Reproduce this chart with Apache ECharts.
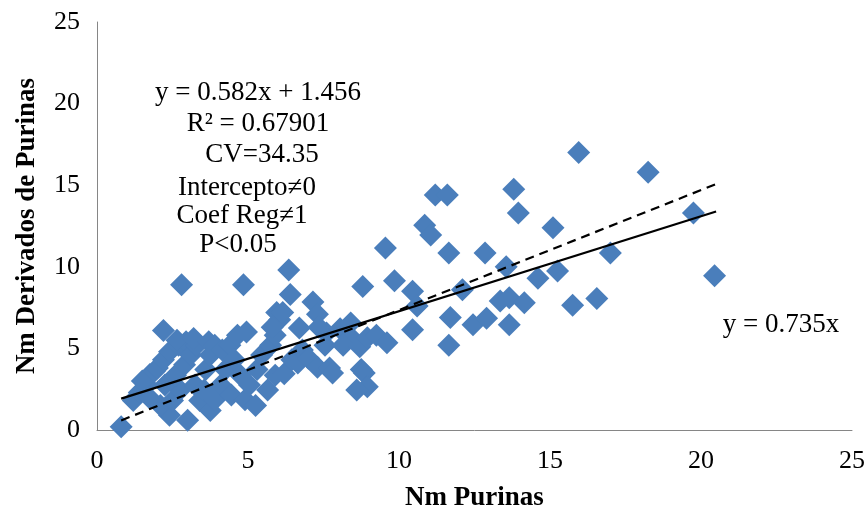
<!DOCTYPE html>
<html>
<head>
<meta charset="utf-8">
<script src="https://cdn.jsdelivr.net/npm/echarts@6/dist/echarts.min.js"></script>
<style>
  html, body { margin: 0; padding: 0; background: #ffffff; }
  #chart { width: 867px; height: 512px; }
</style>
</head>
<body>
<div id="chart"></div>
<script>
  // Nm Purinas (x) vs Nm Derivados de Purinas (y)
  var puntos = [
    [0.8, 0.2], [1.2, 1.8], [1.4, 2.3], [1.65, 2.75], [1.75, 3.4], [1.5, 3.0], [1.9, 3.6],
    [2.0, 3.8], [2.2, 4.3], [2.2, 6.1], [2.4, 4.8], [2.7, 5.2], [2.95, 5.4], [2.65, 5.5],
    [2.4, 0.9], [3.0, 0.6], [2.1, 1.5], [2.5, 1.8], [1.75, 1.95], [2.75, 2.45], [2.25, 2.75],
    [2.6, 3.35], [2.9, 4.0], [3.1, 4.6], [3.3, 5.2], [3.2, 5.6], [3.7, 5.4], [3.4, 1.8],
    [3.25, 2.75], [3.6, 3.7], [2.8, 8.9], [3.75, 4.6], [3.9, 5.2], [3.55, 2.45], [3.75, 1.2],
    [3.9, 1.85], [4.1, 2.75], [4.25, 3.7], [4.15, 4.9], [4.4, 5.2], [4.65, 5.8], [4.95, 6.0],
    [4.85, 8.9], [4.55, 4.3], [4.75, 3.35], [4.45, 2.15], [4.9, 1.85], [5.25, 1.5], [5.05, 2.75],
    [5.3, 3.7], [5.45, 4.6], [5.75, 5.2], [5.9, 5.8], [6.05, 6.75], [5.95, 7.2], [6.15, 7.2],
    [6.4, 8.3], [6.35, 9.8], [5.65, 2.45], [5.9, 3.35], [6.2, 3.45], [6.45, 4.3], [6.65, 4.1],
    [6.8, 4.9], [7.0, 4.4], [7.15, 7.85], [7.3, 7.1], [7.35, 6.3], [5.8, 6.3], [6.7, 6.25],
    [7.6, 5.95], [7.3, 3.85], [7.7, 3.8], [7.8, 3.5], [7.55, 5.2], [8.05, 6.2], [8.4, 6.55],
    [8.4, 5.7], [8.15, 5.2], [8.7, 5.1], [8.95, 5.65], [9.25, 5.8], [9.6, 5.35], [8.75, 3.7],
    [8.85, 3.5], [8.95, 2.65], [8.6, 2.45], [8.8, 8.8], [9.55, 11.15], [9.85, 9.15], [10.45, 8.5],
    [10.6, 7.6], [10.45, 6.15], [10.85, 12.55], [11.05, 11.95], [11.2, 14.4], [11.6, 14.4],
    [11.65, 10.85], [11.7, 6.9], [11.65, 5.2], [12.1, 8.6], [12.45, 6.45], [12.9, 6.85],
    [12.85, 10.85], [13.35, 7.9], [13.65, 8.1], [13.65, 6.45], [13.55, 10.0], [13.8, 14.75],
    [13.95, 13.3], [14.15, 7.8], [14.6, 9.3], [15.1, 12.4], [15.25, 9.75], [15.75, 7.65],
    [15.95, 17.0], [16.55, 8.05], [17.0, 10.85], [18.25, 15.8], [19.75, 13.3], [20.45, 9.45]
  ];

  // lineas de tendencia (extremos del rango de x)
  var rangoX = [0.8, 20.5];
  var pendiente = 0.582, intercepto = 1.456;
  var pendienteOrigen = 0.735;

  var lineaReg = rangoX.map(function (x) { return [x, pendiente * x + intercepto]; });
  var lineaOrigen = rangoX.map(function (x) { return [x, pendienteOrigen * x]; });

  var ticksX = [0, 5, 10, 15, 20, 25];
  var ticksY = [0, 5, 10, 15, 20, 25];

  var anotaciones = [
    'y = 0.582x + 1.456',
    'R\u00B2 = 0.67901',
    'CV=34.35',
    'Intercepto\u22600',
    'Coef Reg\u22601',
    'P<0.05'
  ];
  var anotacionesX = [258, 258, 262, 247, 242, 238];
  var anotacionesY = [93, 124, 155, 188, 216, 245];

  var fuente = '"Liberation Serif", "Times New Roman", serif';
  var chart = echarts.init(document.getElementById('chart'));

  function texto(t, x, y, size, bold) {
    return {
      type: 'text', x: x, y: y, z: 10,
      style: {
        text: t, fontFamily: fuente, fontSize: size, fontWeight: bold ? 'bold' : 'normal',
        fill: '#000', align: 'center', verticalAlign: 'middle'
      }
    };
  }

  var textos = anotaciones.map(function (t, i) {
    return texto(t, anotacionesX[i], anotacionesY[i], 27, false);
  });
  textos.push(texto('y = 0.735x', 781, 325, 27, false));

  chart.setOption({
    backgroundColor: '#ffffff',
    animation: false,
    grid: { left: 97, right: 15, top: 22, bottom: 82, containLabel: false, outerBoundsMode: 'none' },
    xAxis: {
      type: 'value', min: 0, max: 25, interval: 5,
      name: 'Nm Purinas', nameLocation: 'middle', nameGap: 55,
      nameTextStyle: { fontFamily: fuente, fontSize: 27, fontWeight: 'bold', color: '#000' },
      axisLine: { show: true, onZero: false, lineStyle: { color: '#868686', width: 1 } },
      axisTick: { show: false },
      splitLine: { show: false },
      axisLabel: {
        fontFamily: fuente, fontSize: 26, color: '#000', margin: 18,
        formatter: function (v) { return ticksX.indexOf(v) >= 0 ? String(v) : ''; }
      }
    },
    yAxis: {
      type: 'value', min: 0, max: 25, interval: 5,
      name: 'Nm Derivados de Purinas', nameLocation: 'middle', nameGap: 56,
      nameTextStyle: { fontFamily: fuente, fontSize: 27, fontWeight: 'bold', color: '#000' },
      axisLine: { show: true, onZero: false, lineStyle: { color: '#868686', width: 1 } },
      axisTick: { show: false },
      splitLine: { show: false },
      axisLabel: {
        fontFamily: fuente, fontSize: 26, color: '#000', margin: 17,
        formatter: function (v) { return ticksY.indexOf(v) >= 0 ? String(v) : ''; }
      }
    },
    graphic: textos,
    series: [
      {
        type: 'scatter', data: puntos, symbol: 'diamond', symbolSize: 23,
        itemStyle: { color: '#4A7EBB', opacity: 1 }, z: 2
      },
      {
        type: 'line', data: lineaReg, showSymbol: false, symbol: 'none',
        lineStyle: { color: '#000', width: 2.2 }, z: 5
      },
      {
        type: 'line', data: lineaOrigen, showSymbol: false, symbol: 'none',
        lineStyle: { color: '#000', width: 2.2, type: [9, 6] }, z: 5
      }
    ]
  });
</script>
</body>
</html>
